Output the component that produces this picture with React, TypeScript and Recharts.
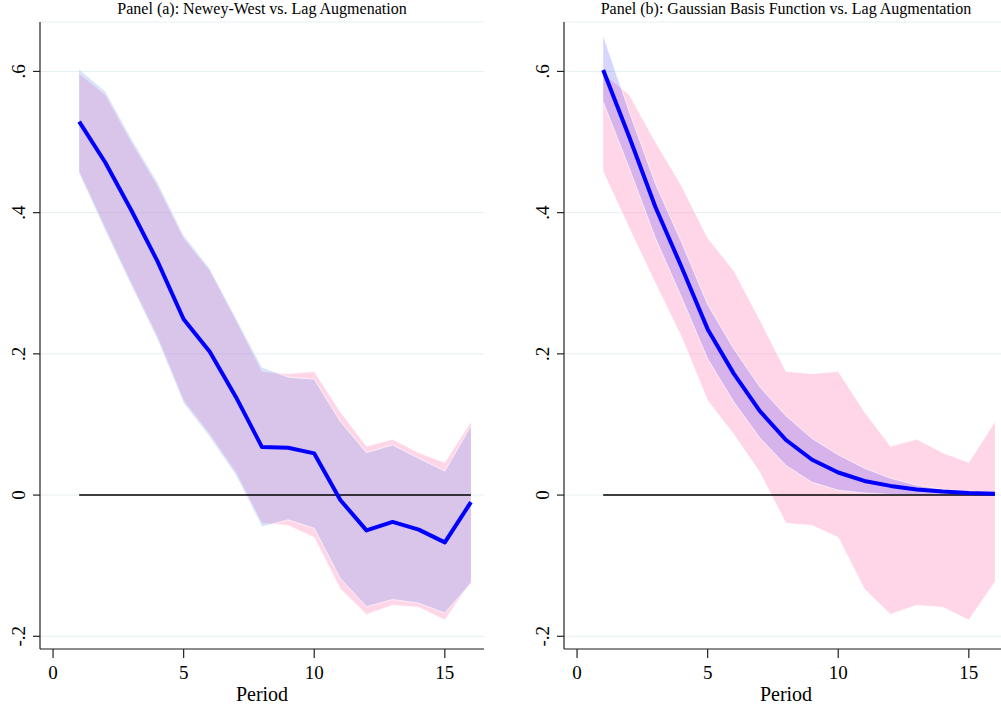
import React from "react";
import { ComposedChart, Area, Line, XAxis, YAxis, CartesianGrid } from "recharts";

const FONT = '"Liberation Serif", "Times New Roman", serif';

// horizon
const periods = [1, 2, 3, 4, 5, 6, 7, 8, 9, 10, 11, 12, 13, 14, 15, 16];

// panel (a): local projection estimate
const lpEstimate = [0.529, 0.471, 0.403, 0.331, 0.249, 0.203, 0.139, 0.068, 0.067, 0.059, -0.007, -0.050, -0.038, -0.049, -0.067, -0.010];

// lag augmentation band (same in both panels)
const lagUpper = [0.597, 0.567, 0.500, 0.438, 0.364, 0.318, 0.248, 0.175, 0.172, 0.175, 0.118, 0.069, 0.079, 0.060, 0.046, 0.104];
const lagLower = [0.458, 0.378, 0.300, 0.224, 0.134, 0.086, 0.032, -0.040, -0.043, -0.060, -0.133, -0.169, -0.156, -0.159, -0.177, -0.123];

// Newey-West band
const nwUpper = [0.603, 0.572, 0.505, 0.443, 0.368, 0.321, 0.251, 0.181, 0.167, 0.164, 0.104, 0.060, 0.071, 0.052, 0.034, 0.098];
const nwLower = [0.455, 0.374, 0.296, 0.220, 0.130, 0.082, 0.028, -0.045, -0.035, -0.047, -0.118, -0.158, -0.148, -0.153, -0.167, -0.125];

// panel (b): gaussian basis function estimate + band
const gbfEstimate = [0.602, 0.507, 0.408, 0.323, 0.235, 0.172, 0.119, 0.078, 0.050, 0.032, 0.020, 0.013, 0.008, 0.005, 0.003, 0.002];
const gbfUpper = [0.651, 0.543, 0.441, 0.358, 0.270, 0.207, 0.153, 0.112, 0.080, 0.057, 0.038, 0.024, 0.014, 0.008, 0.005, 0.003];
const gbfLower = [0.557, 0.463, 0.364, 0.280, 0.193, 0.132, 0.081, 0.042, 0.018, 0.007, 0.003, 0.001, 0.0, 0.0, 0.0, 0.0];

const baseline = periods.map(() => 0);

const xTicks = [0, 5, 10, 15];
const yTicks = [-0.2, 0, 0.2, 0.4, 0.6];

const titles = [
  "Panel (a): Newey-West vs. Lag Augmenation",
  "Panel (b): Gaussian Basis Function vs. Lag Augmentation",
];
const xTitle = "Period";

const rowsA = periods.map((p, i) => ({
  period: p,
  lag: [lagLower[i], lagUpper[i]],
  band: [nwLower[i], nwUpper[i]],
  est: lpEstimate[i],
  zero: baseline[i],
}));

const rowsB = periods.map((p, i) => ({
  period: p,
  lag: [lagLower[i], lagUpper[i]],
  band: [gbfLower[i], gbfUpper[i]],
  est: gbfEstimate[i],
  zero: baseline[i],
}));

// Stata-like labels: .6 instead of 0.6
const fmt = (v: number) => {
  if (v === 0) return "0";
  const s = String(Math.round(v * 10) / 10);
  return s.replace("0.", ".");
};

const YTick = (props: any) => {
  const { y, payload } = props;
  return (
    <text
      transform={`translate(25,${y}) rotate(-90)`}
      textAnchor="middle"
      fontSize={19}
      fontFamily={FONT}
      fill="#000"
    >
      {fmt(payload.value)}
    </text>
  );
};

const XTick = (props: any) => {
  const { x, payload } = props;
  return (
    <text x={x} y={679} textAnchor="middle" fontSize={19} fontFamily={FONT} fill="#000">
      {payload.value}
    </text>
  );
};

function Panel({ data, bandColor, bandOpacity }: { data: any[]; bandColor: string; bandOpacity: number }) {
  return (
    <ComposedChart width={500} height={711} data={data} margin={{ top: 22, right: 16, left: 0, bottom: 0 }}>
      <CartesianGrid vertical={false} stroke="#e6eff2" strokeWidth={1} />
      <XAxis
        dataKey="period"
        type="number"
        domain={[-0.5, 16.5]}
        ticks={xTicks}
        allowDataOverflow
        height={62}
        tickSize={9}
        axisLine={{ stroke: "#222", strokeWidth: 1.2 }}
        tickLine={{ stroke: "#222", strokeWidth: 1.2 }}
        tick={<XTick />}
      />
      <YAxis
        type="number"
        domain={[-0.218, 0.67]}
        ticks={yTicks}
        allowDataOverflow
        width={40}
        tickSize={7}
        axisLine={{ stroke: "#222", strokeWidth: 1.2 }}
        tickLine={{ stroke: "#222", strokeWidth: 1.2 }}
        tick={<YTick />}
      />
      <Area
        type="linear"
        dataKey="lag"
        fill="#ff78b4"
        fillOpacity={0.3}
        stroke="#ffffff"
        strokeWidth={0.8}
        strokeOpacity={0.8}
        isAnimationActive={false}
      />
      <Area
        type="linear"
        dataKey="band"
        fill={bandColor}
        fillOpacity={bandOpacity}
        stroke="#ffffff"
        strokeWidth={0.8}
        strokeOpacity={0.8}
        isAnimationActive={false}
      />
      <Line type="linear" dataKey="zero" stroke="#000" strokeWidth={1.5} dot={false} isAnimationActive={false} />
      <Line
        type="linear"
        dataKey="est"
        stroke="#0000ff"
        strokeWidth={4}
        dot={false}
        strokeLinejoin="round"
        isAnimationActive={false}
      />
    </ComposedChart>
  );
}

export default function App() {
  return (
    <div
      style={{
        position: "absolute",
        left: 0,
        top: 0,
        width: 1001,
        height: 711,
        overflow: "hidden",
        background: "#fff",
      }}
    >
      <div style={{ position: "absolute", left: 0, top: 0 }}>
        <Panel data={rowsA} bandColor="#6794ee" bandOpacity={0.25} />
      </div>
      <div style={{ position: "absolute", left: 524, top: 0 }}>
        <Panel data={rowsB} bandColor="#0000ff" bandOpacity={0.16} />
      </div>
      <svg
        width={1001}
        height={711}
        style={{ position: "absolute", left: 0, top: 0, pointerEvents: "none" }}
      >
        <text x={262} y={14} textAnchor="middle" fontSize={16} fontFamily={FONT} fill="#000">
          {titles[0]}
        </text>
        <text x={786} y={14} textAnchor="middle" fontSize={16} fontFamily={FONT} fill="#000">
          {titles[1]}
        </text>
        <text x={262} y={701} textAnchor="middle" fontSize={20} fontFamily={FONT} fill="#000">
          {xTitle}
        </text>
        <text x={786} y={701} textAnchor="middle" fontSize={20} fontFamily={FONT} fill="#000">
          {xTitle}
        </text>
      </svg>
    </div>
  );
}
